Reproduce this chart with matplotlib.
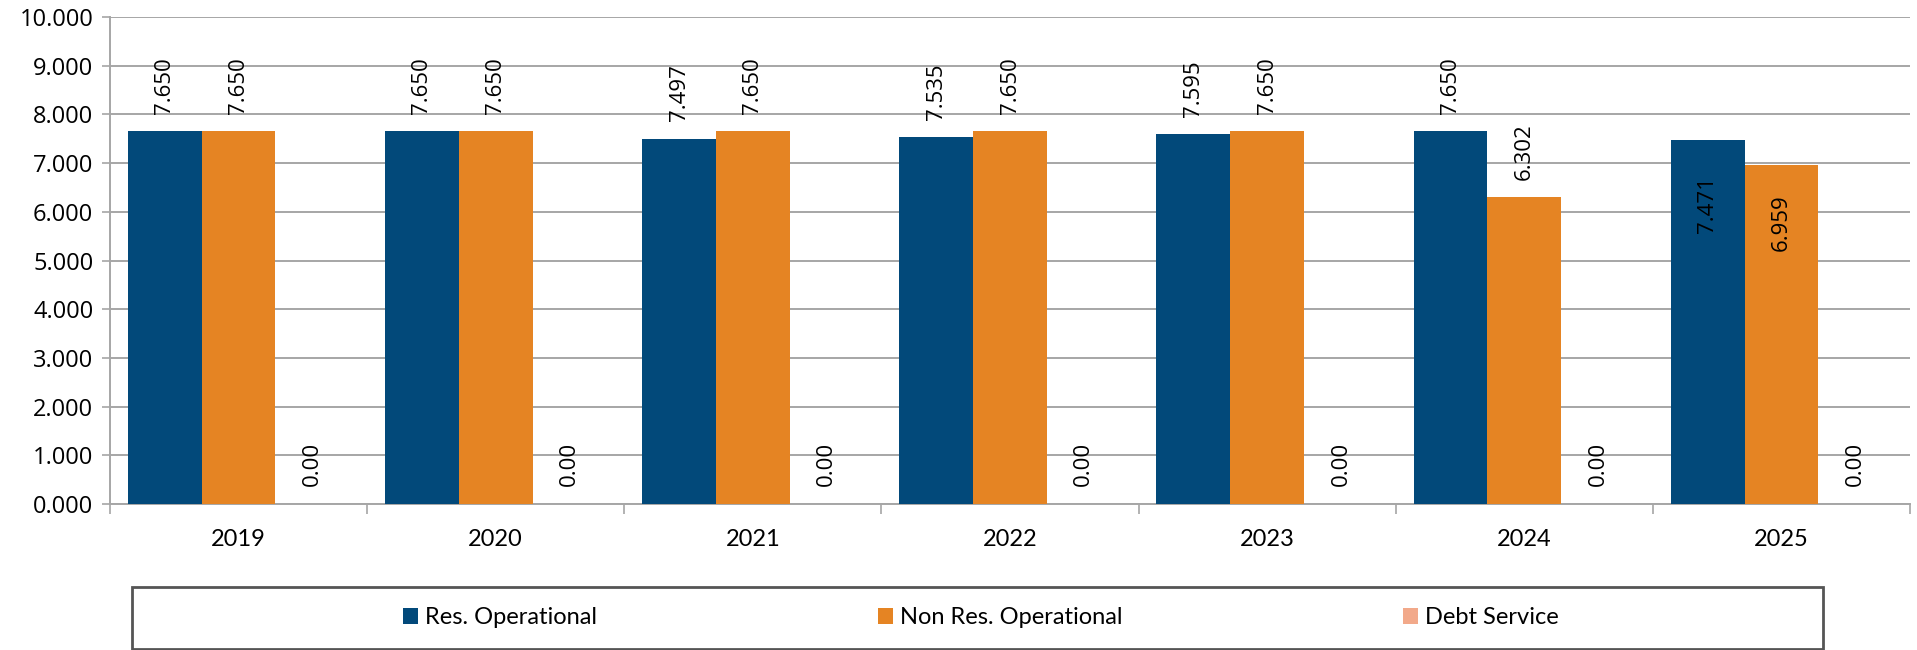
import matplotlib
matplotlib.use("Agg")
import matplotlib.pyplot as plt
import numpy as np
from matplotlib.patches import Rectangle

# data
years = ["2019", "2020", "2021", "2022", "2023", "2024", "2025"]
res_operational = [7.650, 7.650, 7.497, 7.535, 7.595, 7.650, 7.471]
non_res_operational = [7.650, 7.650, 7.650, 7.650, 7.650, 6.302, 6.959]
debt_service = [0.0, 0.0, 0.0, 0.0, 0.0, 0.0, 0.0]
series_names = ["Res. Operational", "Non Res. Operational", "Debt Service"]
series_colors = ["#02497A", "#E58423", "#F2A98A"]
y_ticks = [0, 1, 2, 3, 4, 5, 6, 7, 8, 9, 10]

num_font = "Open Sans"
txt_font = "Lato"
grid_col = "#A6A6A6"

fig = plt.figure(figsize=(19.17, 6.5), dpi=100)
ax = fig.add_axes([110 / 1917, 1 - 504 / 650, 1800 / 1917, 487 / 650])

x = np.arange(len(years))
w = 0.287
# the last year has its two labels pushed down inside the bar ends
inside_drop = [1.33, 1.18]
all_series = [res_operational, non_res_operational, debt_service]
for i, (vals, name, col) in enumerate(zip(all_series, series_names, series_colors)):
    pos = x + (i - 1) * w
    ax.bar(pos, vals, width=w, color=col, label=name, zorder=3)
    for j, (px, v) in enumerate(zip(pos, vals)):
        lbl = "0.00" if i == 2 else "{:.3f}".format(v)
        if j == len(years) - 1 and i < 2:
            ax.text(px, v - inside_drop[i], lbl, rotation=90, ha="center", va="center",
                    fontsize=16, family=num_font, color="black", zorder=4)
        else:
            ax.text(px, v + 0.36, lbl, rotation=90, ha="center", va="bottom",
                    fontsize=16, family=num_font, color="black", zorder=4)

ax.set_xlim(-0.5, len(years) - 0.5)
ax.set_ylim(0, 10)
ax.set_yticks(y_ticks)
ax.set_yticklabels(["{:.3f}".format(t) for t in y_ticks], fontsize=17, family=num_font)
ax.set_xticks(x)
ax.set_xticklabels(years, fontsize=17, family=txt_font)
ax.set_xticks(np.arange(-0.5, len(years), 1.0), minor=True)
ax.tick_params(axis="x", which="major", length=0, pad=18)
ax.tick_params(axis="x", which="minor", length=7, width=1.2, color=grid_col)
ax.tick_params(axis="y", length=6, width=1.2, color=grid_col, pad=6)

ax.grid(axis="y", color=grid_col, linewidth=1.4, zorder=0)
for s in ["top", "right"]:
    ax.spines[s].set_visible(False)
for s in ["left", "bottom"]:
    ax.spines[s].set_color(grid_col)
    ax.spines[s].set_linewidth(1.4)

# legend box
fig.patches.append(Rectangle((132 / 1917, 1 - 649 / 650), 1691 / 1917, 62 / 650,
                             transform=fig.transFigure, fill=False,
                             edgecolor="#555555", linewidth=2))
handles, labels = ax.get_legend_handles_labels()
fig.legend(handles, labels, loc="center", bbox_to_anchor=(981 / 1917, 1 - 618 / 650),
           ncol=3, frameon=False, handlelength=0.63, handleheight=0.63,
           handletextpad=0.3, columnspacing=11.9,
           prop={"family": txt_font, "size": 17})

fig.savefig("out.png", dpi=100)
